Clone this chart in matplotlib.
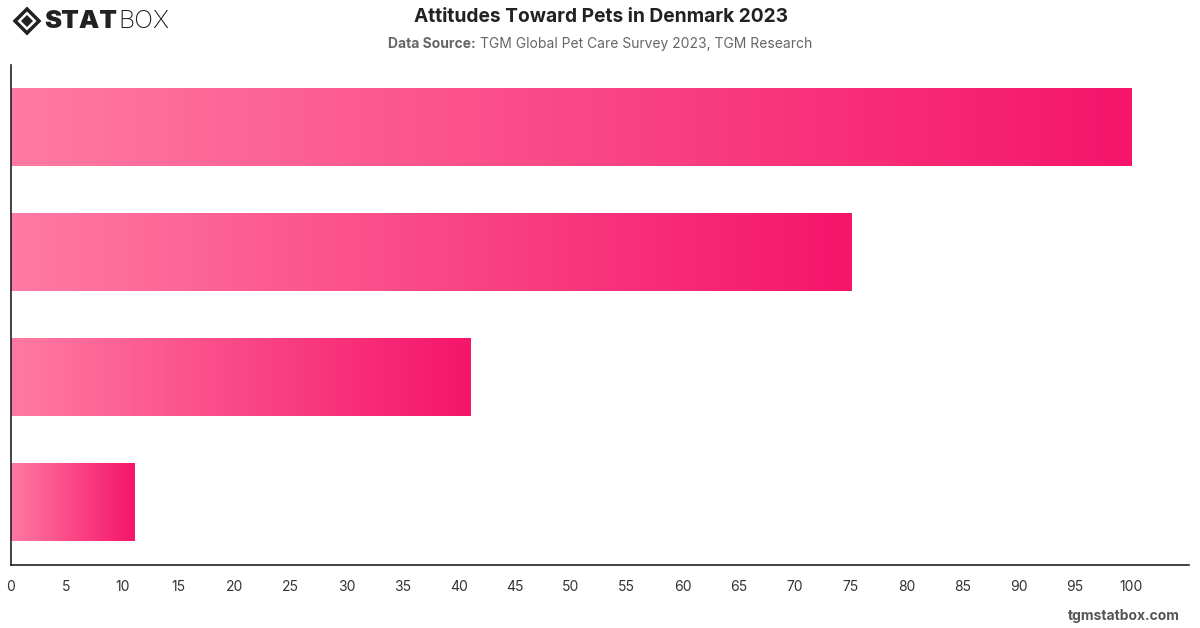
import numpy as np
import matplotlib
matplotlib.use("Agg")
import matplotlib.pyplot as plt
from matplotlib.colors import LinearSegmentedColormap
from matplotlib.patches import Polygon

plt.rcParams['font.family'] = ['Inter', 'DejaVu Sans']

# data (top to bottom)
categories = ['Attitude 1', 'Attitude 2', 'Attitude 3', 'Attitude 4']
values = [100, 75, 41, 11]
x_ticks = list(range(0, 105, 5))

title = 'Attitudes Toward Pets in Denmark 2023'
source_label = 'Data Source:'
source = 'TGM Global Pet Care Survey 2023, TGM Research'

W, H = 1200, 628
fig = plt.figure(figsize=(W / 100, H / 100), dpi=100)
ax = fig.add_axes([10.5 / W, 1 - 565 / H, (1189 - 10.5) / W, 500 / H])

cmap = LinearSegmentedColormap.from_list('pink', ['#ff7aa3', '#f5156a'])
grad = np.linspace(0, 1, 256).reshape(1, -1)
bar_h = 0.62

for i, v in enumerate(values):
    ax.imshow(grad, cmap=cmap, aspect='auto', interpolation='bicubic',
              extent=[0, v, i + bar_h / 2, i - bar_h / 2], zorder=2)

ax.set_xlim(0, 105.2)
ax.set_ylim(3.5, -0.5)
ax.set_yticks([])
ax.set_xticks(x_ticks)
ax.tick_params(axis='x', length=0, pad=11, labelsize=10, labelcolor='#333333')
for s in ['top', 'right']:
    ax.spines[s].set_visible(False)
for s in ['left', 'bottom']:
    ax.spines[s].set_color('#222222')
    ax.spines[s].set_linewidth(1.2)

# header
fig.text(601 / W, 1 - 17 / H, title, ha='center', va='center',
         fontsize=13.8, fontweight='bold', color='#222222')

renderer = fig.canvas.get_renderer()
t1 = fig.text(0, 1 - 44 / H, source_label, ha='left', va='center',
              fontsize=10, fontweight='bold', color='#666666')
t2 = fig.text(0, 1 - 44 / H, source, ha='left', va='center',
              fontsize=10, color='#666666')
w1 = t1.get_window_extent(renderer).width
w2 = t2.get_window_extent(renderer).width
gap = 5
x0 = 600 - (w1 + gap + w2) / 2
t1.set_x(x0 / W)
t2.set_x((x0 + w1 + gap) / W)

# logo
cx, cy = 27 / W, 1 - 21 / H
dx, dy = 12 / W, 12 / H
fig.patches.append(Polygon([[cx - dx, cy], [cx, cy + dy], [cx + dx, cy], [cx, cy - dy]],
                           closed=True, transform=fig.transFigure,
                           facecolor='none', edgecolor='#222222', linewidth=2.5))
fig.patches.append(Polygon([[cx - dx * 0.5, cy], [cx, cy + dy * 0.5], [cx + dx * 0.5, cy],
                            [cx, cy - dy * 0.5]],
                           closed=True, transform=fig.transFigure,
                           facecolor='#222222', edgecolor='none'))
fig.text(44 / W, 1 - 21 / H, 'STAT', ha='left', va='center', fontsize=18.5,
         fontweight='black', color='#222222')
fig.text(118 / W, 1 - 21 / H, 'BOX', ha='left', va='center', fontsize=18,
         fontweight='light', color='#222222')

# footer
fig.text(1180 / W, 1 - 616 / H, 'tgmstatbox.com', ha='right', va='center',
         fontsize=10, fontweight='bold', color='#555555')

fig.savefig('out.png', dpi=100)
